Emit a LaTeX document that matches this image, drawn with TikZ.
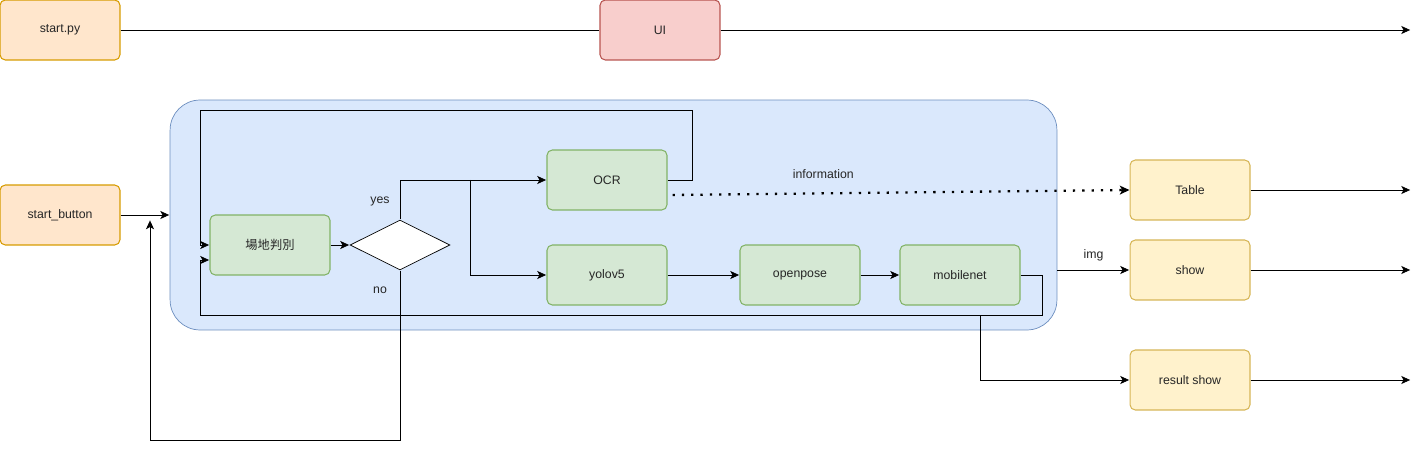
\documentclass[tikz,border=0pt]{standalone}
\usepackage{fontspec}
\setmainfont{Liberation Sans}
\newfontfamily\cjk{Noto Sans CJK TC}
\usetikzlibrary{arrows.meta, positioning, shapes.geometric}
\definecolor{startfill}{HTML}{FFE6CC}
\definecolor{startline}{HTML}{D79B00}
\definecolor{uifill}{HTML}{F8CECC}
\definecolor{uiline}{HTML}{B85450}
\definecolor{stagefill}{HTML}{DAE8FC}
\definecolor{stageline}{HTML}{6C8EBF}
\definecolor{procfill}{HTML}{D5E8D4}
\definecolor{procline}{HTML}{82B366}
\definecolor{outfill}{HTML}{FFF2CC}
\definecolor{outline}{HTML}{D6B656}

\begin{document}
\begin{tikzpicture}[x=0.02cm, y=-0.02cm]
	\tikzset {>={Stealth[length=5.5pt, width=5pt, inset=1.4pt]}, line width=0.6pt,
		every node/.style={font=\fontsize{7}{8.4}\selectfont, text=black!85},
		box/.style={draw, rounded corners=3pt, minimum width=2.4cm, minimum height=1.2cm, line width=0.6pt},
		startbox/.style={box, fill=startfill, draw=startline},
		uibox/.style={box, fill=uifill, draw=uiline},
		procbox/.style={box, fill=procfill, draw=procline},
		outbox/.style={box, fill=outfill, draw=outline},
		lbl/.style={inner sep=1pt} }
	\useasboundingbox (0,0) rectangle (1419,449);

	\node[draw=stageline, fill=stagefill, rounded corners=0.6cm, minimum width=17.74cm, minimum height=4.6cm] (stage) at (613.5,215) {};

	\node[startbox] (startpy) at (60,30) {start.py};
	\node[uibox] (ui) at (660,30) {UI};
	\node[startbox] (startbtn) at (60,215) {start\_button};

	\node[procbox] (judge) at (270,245) {\cjk 場地判別};
	\node[diamond, draw, fill=white, aspect=2, inner sep=0pt, minimum width=2cm, minimum height=1cm] (check) at (400,245) {};
	\node[procbox] (ocr) at (607,180) {OCR};
	\node[procbox] (yolo) at (607,275) {yolov5};
	\node[procbox] (pose) at (800,275) {openpose};
	\node[procbox] (mnet) at (960,275) {mobilenet};

	\node[outbox] (table) at (1190,190) {Table};
	\node[outbox] (show) at (1190,270) {show};
	\node[outbox] (res) at (1190,380) {result show};

	\node[lbl] (yeslbl) at (380,201) {yes};
	\node[lbl] (nolbl) at (380,290) {no};

	\coordinate (split) at (470,180);
	\coordinate (topleft) at (200,110);
	\coordinate (botleft) at (200,315);
	\coordinate (tap) at (980,315);
	\coordinate (back) at (150,220);

	\draw (startpy) -- (ui);
	\draw[->] (ui.east) -- ++(690,0);
	\draw[->] (startbtn.east) -- (stage.west);

	\draw[->] (judge) -- (check);
	\draw[->] (check.north) |- (ocr.west);
	\draw[->] (split) |- (yolo.west);
	\draw[->] (yolo) -- (pose);
	\draw[->] (pose) -- (mnet);
	\draw[->] (ocr.east) -| (692,110) -- (topleft) |- (judge.west);
	\draw[->] (mnet.east) -| (1042,315) -- (botleft) |- ([yshift=-0.3cm]judge.west);
	\draw[->] (check.south) -- ++(0,170) -| (back);

	\draw[->, dash pattern=on 1.3pt off 4pt, line width=1.3pt] ([xshift=0.1cm, yshift=-0.3cm]ocr.east) -- (table.west)
		node[pos=0.33, yshift=0.38cm] {information};
	\draw[->] (stage.east |- show) -- (show.west) node[midway, yshift=0.3cm] {img};
	\draw[->] (tap) |- (res.west);

	\draw[->] (table.east) -- ++(160,0);
	\draw[->] (show.east) -- ++(160,0);
	\draw[->] (res.east) -- ++(160,0);
\end{tikzpicture}
\end{document}
